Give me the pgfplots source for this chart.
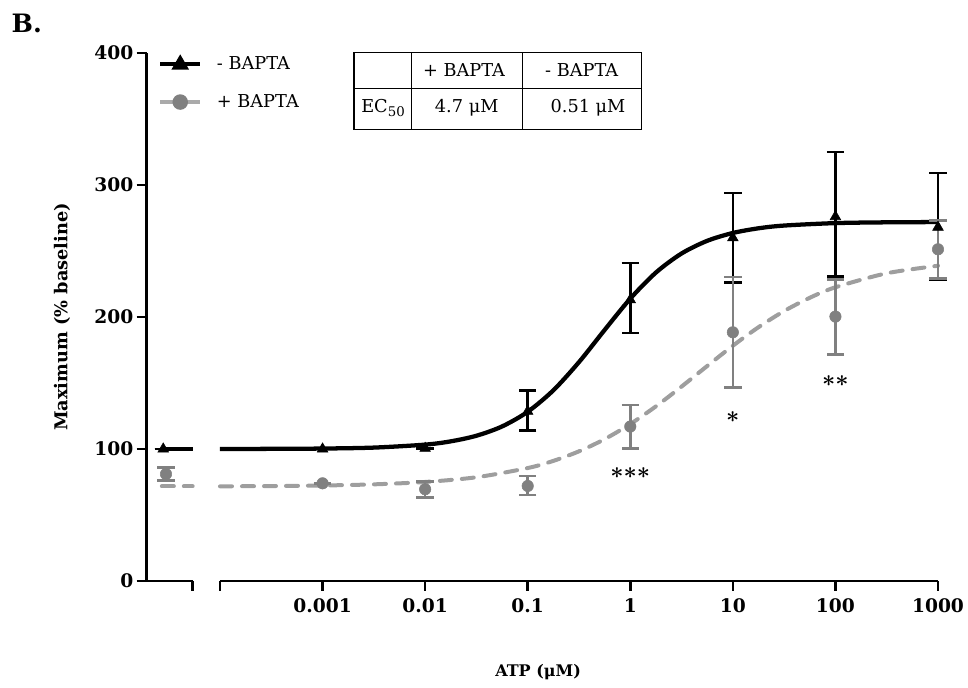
\documentclass[border=0pt]{standalone}
\usepackage{fontspec}
\setmainfont{DejaVu Serif}
\usepackage{pgfplots}
\pgfplotsset{compat=1.18}

\definecolor{ptgray}{RGB}{128,128,128}
\definecolor{crvgray}{RGB}{158,158,158}
\definecolor{leggray}{RGB}{170,170,170}

\pgfplotsset{
  brk/.style={
    scale only axis, height=396pt, ymin=0, ymax=400, clip=false,
    axis line style={line width=2pt,-},
    every tick/.style={line width=2pt,black},
    major tick length=7.5pt, tick align=outside,
    ticklabel style={font=\fontsize{14}{14}\selectfont\bfseries},
    /pgf/number format/assume math mode=true,
  },
  blackpts/.style={black, only marks, mark=triangle*, mark size=4.6pt,
    error bars/.cd, y dir=both, y explicit,
    error bar style={line width=2pt, black},
    error mark options={rotate=90, mark size=6.5pt, line width=2pt, black}},
  graypts/.style={ptgray, only marks, mark=*, mark size=4.3pt,
    mark options={fill=ptgray, draw=ptgray},
    error bars/.cd, y dir=both, y explicit,
    error bar style={line width=2pt, ptgray},
    error mark options={rotate=90, mark size=6.5pt, line width=2pt, ptgray}},
  blackcrv/.style={black, line width=3.2pt, smooth, no marks},
  graycrv/.style={crvgray, line width=3pt, smooth, no marks, line cap=round,
    dash pattern=on 9pt off 7.5pt},
}

\begin{document}
\begin{tikzpicture}
\useasboundingbox (0,0) rectangle (726pt,516pt);

% panel letter
\node[anchor=north west, inner sep=0pt, font=\fontsize{19}{19}\selectfont\bfseries] at (8.5pt,506pt) {B.};

% left (control) segment
\begin{axis}[brk, at={(110pt,80.25pt)}, anchor=south west, width=34.5pt,
  xmin=0, xmax=1,
  axis x line*=bottom, axis y line*=left,
  xtick={1}, xticklabels={},
  ytick={0,100,200,300,400},
  yticklabel style={xshift=1pt},
  ylabel={Maximum (\% baseline)},
  ylabel style={at={(rel axis cs:-1.84,0.5)}, anchor=center,
    font=\fontsize{13.3}{13.3}\selectfont\bfseries},
]
\addplot[blackcrv] coordinates {(0.36,100) (1,100)};
\addplot[graycrv] coordinates {(0.33,71.7) (1,71.7)};
\addplot[blackpts] coordinates {(0.36,100) +- (0,0)};
\addplot[graypts] coordinates {(0.42,81) +- (0,5)};
\end{axis}

% main log segment
\begin{axis}[brk, at={(165pt,80.25pt)}, anchor=south west, width=538.5pt,
  xmode=log, xmin=1e-4, xmax=1e3,
  axis x line*=bottom, axis y line=none,
  xtick={1e-4,1e-3,1e-2,1e-1,1,10,100,1000},
  xticklabels={,0.001,0.01,0.1,1,10,100,1000},
  minor xtick={}, xminorticks=false,
  xticklabel style={yshift=-2.5pt},
  xlabel={ATP (μM)},
  xlabel style={at={(rel axis cs:0.443,-0.172)}, anchor=center,
    font=\fontsize{12}{12}\selectfont\bfseries},
  legend style={at={(rel axis cs:-0.0864,0.998)}, anchor=north west,
    draw=none, fill=none, font=\fontsize{13.3}{14}\selectfont,
    row sep=13pt, inner sep=0pt,
    /tikz/every odd column/.append style={column sep=9pt}},
  legend cell align=left,
  legend image code/.code={\draw[mark repeat=2,mark phase=2] plot coordinates {(0pt,0pt) (15pt,0pt) (30pt,0pt)};},
]
\addlegendimage{black, line width=3pt, mark=triangle*, mark size=4.6pt}
\addlegendentry{- BAPTA}
\addlegendimage{leggray, line width=3pt, mark=*, mark size=4.3pt, mark options={fill=ptgray, draw=ptgray}}
\addlegendentry{+ BAPTA}

% fitted curves
\addplot[blackcrv] coordinates {
(1e-4,100.03) (3.1623e-4,100.11) (1e-3,100.34) (3.1623e-3,101.06) (1e-2,103.31)
(1.7783e-2,105.80) (3.1623e-2,110.04) (5.6234e-2,117.08) (0.1,128.20)
(0.17783,144.47) (0.31623,165.83) (0.56234,190.19) (1,213.91)
(1.7783,233.67) (3.1623,248.11) (5.6234,257.70) (10,263.65)
(17.783,267.20) (31.623,269.27) (100,271.13) (316.23,271.72) (1000,271.91)};
\addplot[graycrv] coordinates {
(1e-4,71.70) (3.1623e-4,71.91) (1e-3,72.34) (3.1623e-3,73.22) (1e-2,75.02)
(3.1623e-2,78.60) (0.1,85.57) (0.17783,91.00) (0.31623,98.24) (0.56234,107.47)
(1,118.90) (1.7783,132.31) (3.1623,147.28) (5.6234,162.89) (10,178.22)
(17.783,192.27) (31.623,204.52) (56.234,214.55) (100,222.51) (316.23,233.11) (1000,238.80)};

% means with SEM
\addplot[blackpts] coordinates {
(1e-3,100) +- (0,0)
(1e-2,100.5) +- (0,0)
(0.1,128.5) += (0,16) -= (0,14.5)
(1,213) += (0,28) -= (0,25)
(10,260) += (0,34) -= (0,34)
(100,276) += (0,49) -= (0,45.5)
(1000,268) += (0,41) -= (0,39.5)};
\addplot[graypts] coordinates {
(1e-3,74) +- (0,0)
(1e-2,69.5) += (0,5.7) -= (0,6)
(0.1,72) += (0,7.5) -= (0,6.8)
(1,117) += (0,16.3) -= (0,16.5)
(10,188.4) += (0,42) -= (0,42)
(100,200.3) += (0,28.2) -= (0,28.6)
(1000,251.3) += (0,21.7) -= (0,22.3)};

% significance
\node[font=\fontsize{16}{16}\selectfont\boldmath] at (axis cs:1,82) {${\ast}{\ast}{\ast}$};
\node[font=\fontsize{16}{16}\selectfont\boldmath] at (axis cs:10,124) {${\ast}$};
\node[font=\fontsize{16}{16}\selectfont\boldmath] at (axis cs:100,151.5) {${\ast}{\ast}$};
\end{axis}

% EC50 table (pixel coordinates of the reference, y downwards)
\begin{scope}[x=0.75pt, y=-0.75pt, shift={(0,516pt)}, line width=1pt,
  font=\fontsize{13.3}{14}\selectfont]
\draw (354,52.7) rectangle (641.7,129.3);
\draw (353,88.3) -- (641.7,88.3);
\draw (411.7,52.7) -- (411.7,129.3);
\draw (522.7,52.7) -- (522.7,129.3);
\node at (464,70) {+ BAPTA};
\node at (581.7,70) {- BAPTA};
\node at (383,108) {EC\raisebox{-0.45ex}{\fontsize{10}{10}\selectfont 50}};
\node at (466.7,108) {4.7 μM};
\node at (588,108) {0.51 μM};
\end{scope}
\end{tikzpicture}
\end{document}
